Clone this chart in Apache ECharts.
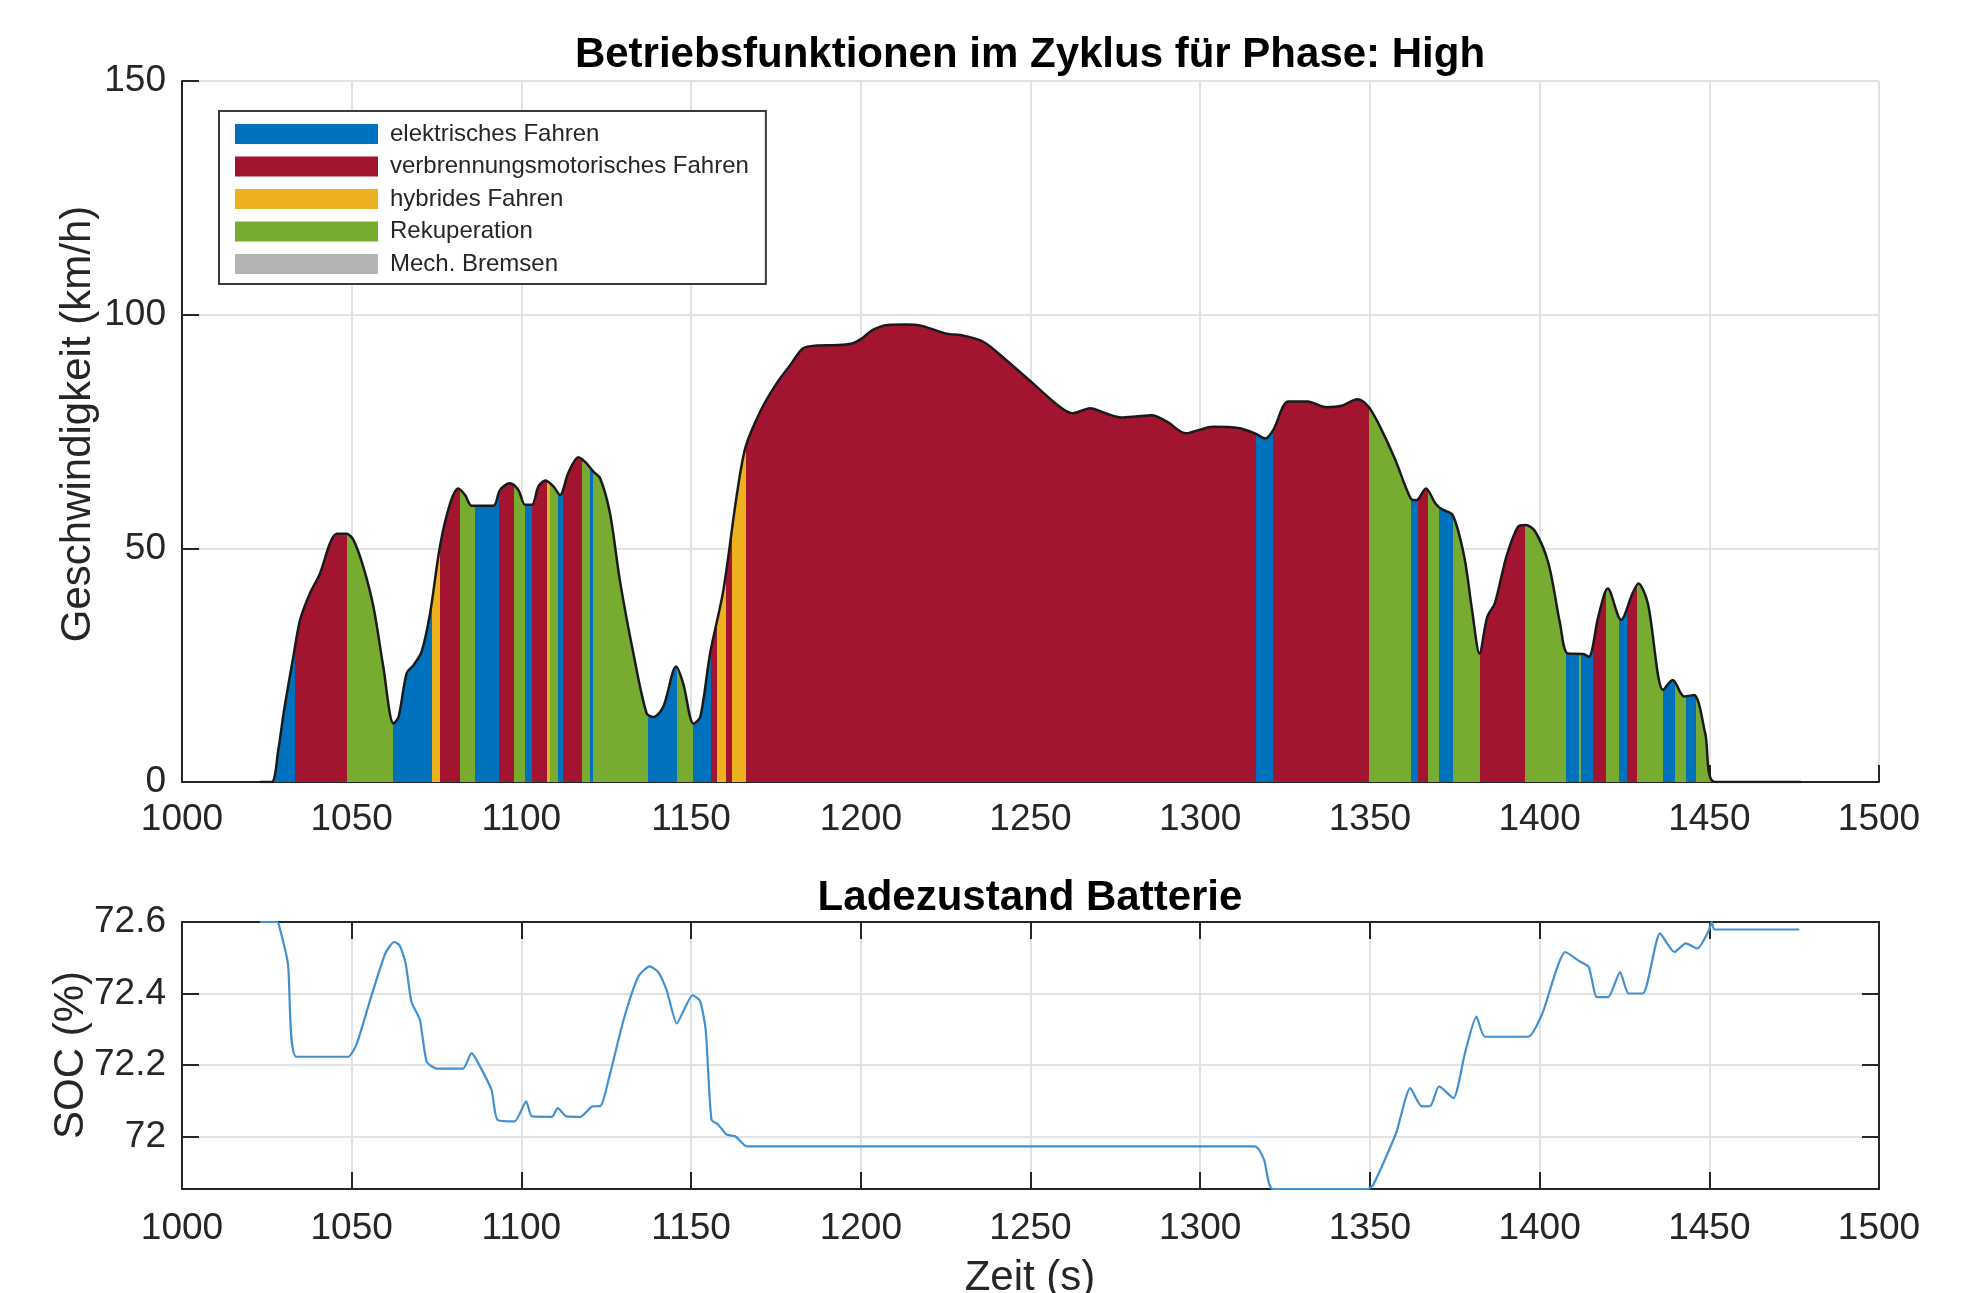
<!DOCTYPE html>
<html>
<head>
<meta charset="utf-8">
<script src="https://cdn.jsdelivr.net/npm/echarts@6/dist/echarts.min.js"></script>
<style>
  html, body { margin: 0; padding: 0; background: #ffffff; }
  #chart { width: 1962px; height: 1293px; }
</style>
</head>
<body>
<div id="chart"></div>
<script>
// Geschwindigkeitsprofil der Phase "High": Zeit (s) und Geschwindigkeit (km/h)
const zeit = [
  1023, 1026.4, 1028.4, 1030, 1032.8, 1034.8, 1037.7, 1040.7, 1043.6, 1045.6,
  1048.5, 1050.5, 1053.4, 1056.4, 1059.3, 1062.3, 1063.8, 1066.2, 1068.2, 1070.6,
  1073.1, 1076.0, 1079.0, 1081.4, 1083.4, 1085.4, 1091.7, 1093.7, 1096.6, 1099.1,
  1101.1, 1103.1, 1105.0, 1107.0, 1109.5, 1111.4, 1113.8, 1116.8, 1119.2, 1121.2,
  1123.2, 1126.1, 1129.0, 1133.0, 1136.9, 1138.9, 1141.8, 1145.6, 1147.7, 1150.7,
  1152.7, 1155.6, 1159.5, 1163.4, 1166.1, 1170.6, 1175.2, 1179.0, 1183.0, 1187.0,
  1193.0, 1197.7, 1200.5, 1203.4, 1207.9, 1213.0, 1218.0, 1224.8, 1230.3, 1236.1,
  1242.8, 1250.7, 1258.6, 1262.5, 1267.6, 1272.1, 1276.7, 1281.0, 1285.7, 1290.2,
  1295.8, 1299.5, 1303.7, 1311.6, 1316.1, 1319.2, 1321.5, 1326.0, 1331.6, 1337.2,
  1341.7, 1346.3, 1349.6, 1353.0, 1357.5, 1362.0, 1363.7, 1366.5, 1369.3, 1371.1,
  1374.4, 1377.8, 1380.1, 1382.3, 1384.6, 1386.8, 1390.2, 1393.6, 1395.8, 1398.7,
  1402.6, 1406.0, 1408.3, 1412.8, 1414.5, 1417.3, 1420.1, 1424.0, 1427.4, 1429.1,
  1431.9, 1436.4, 1439.2, 1442.6, 1445.5, 1448.8, 1451.7, 1477
];
const geschwindigkeit = [
  0, 0, 7, 15, 26.8, 34.7, 40.4, 44.7, 51.1, 53.1,
  53.1, 51.8, 46.1, 37.5, 24.7, 12.5, 13.9, 23.3, 25.0, 27.9,
  36.1, 50.4, 59.6, 62.8, 61.4, 59.1, 59.1, 62.5, 63.9, 62.5,
  59.3, 59.3, 63.2, 64.5, 63.2, 61.4, 66.1, 69.5, 68.2, 66.4,
  65.0, 57.5, 43.2, 27.5, 14.7, 13.9, 16.1, 24.7, 21.0, 12.5,
  13.9, 27.5, 41.0, 61.1, 71.8, 79.6, 85.3, 89.0, 92.8, 93.4,
  93.5, 93.9, 95.0, 96.7, 97.8, 97.9, 97.6, 96.0, 95.5, 94.2,
  90.3, 85.3, 80.3, 78.9, 80.0, 78.9, 78.0, 78.2, 78.5, 77.1,
  74.6, 75.3, 76.0, 75.7, 74.6, 73.5, 75.3, 81.4, 81.4, 80.2,
  80.5, 81.9, 80.3, 76.0, 68.9, 60.7, 60.3, 62.8, 59.6, 58.4,
  57.1, 48.2, 36.8, 27.5, 35.4, 38.2, 48.2, 54.6, 55.0, 53.6,
  46.8, 34.0, 27.5, 27.4, 26.8, 35.4, 41.4, 34.7, 40.4, 42.5,
  38.2, 19.7, 21.8, 18.3, 18.6, 10.4, 0, 0
];

// Betriebsarten und ihre Farben (Legendenreihenfolge)
const betriebsarten = [
  'elektrisches Fahren',
  'verbrennungsmotorisches Fahren',
  'hybrides Fahren',
  'Rekuperation',
  'Mech. Bremsen'
];
const modusFarben = ['#0072BD', '#A2142F', '#EDB120', '#77AC30', '#B4B4B4'];

// Zeitgrenzen der Abschnitte (s) und Betriebsart je Abschnitt
// 0 = elektrisch, 1 = verbrennungsmotorisch, 2 = hybrid, 3 = Rekuperation
const abschnittGrenzen = [
  1026.4, 1033.3, 1048.5, 1062.3, 1073.6, 1076.1, 1081.9, 1086.4, 1093.3, 1097.8,
  1101.2, 1103.1, 1107.5, 1108.5, 1110.9, 1112.4, 1117.8, 1120.2, 1121.2, 1137.4,
  1145.8, 1150.7, 1156.0, 1157.7, 1160.3, 1162.0, 1166.3, 1316.3, 1321.5, 1349.6,
  1362.0, 1364.3, 1367.1, 1370.5, 1374.4, 1382.3, 1395.8, 1407.7, 1411.5, 1412.1,
  1415.6, 1419.5, 1423.5, 1425.7, 1428.6, 1436.4, 1439.8, 1443.2, 1446.0, 1451.7
];
const abschnittModus = [
  0, 1, 3, 0, 2, 1, 3, 0, 1, 3,
  0, 1, 2, 3, 0, 1, 3, 0, 3, 0,
  3, 0, 1, 2, 1, 2, 1, 0, 1, 3,
  0, 1, 3, 0, 3, 1, 3, 0, 3, 0,
  1, 3, 0, 1, 3, 0, 3, 0, 3
];

// Ladezustand der Batterie: Zeit (s) und SOC (%)
const socZeit = [
  1023, 1028, 1028.6, 1031.2, 1033.7, 1048.9, 1051.5, 1055.7, 1059.9, 1062.5,
  1064.1, 1065.9, 1067.6, 1070.1, 1072.1, 1075.1, 1082.8, 1085.3, 1087.0, 1091.2,
  1092.9, 1098.0, 1101.4, 1103.1, 1109.0, 1110.7, 1113.3, 1117.4, 1120.9, 1123.3,
  1125.9, 1130.1, 1134.4, 1137.8, 1140.3, 1142.8, 1145.8, 1147.9, 1150.4, 1152.6,
  1154.3, 1156.0, 1158.0, 1160.5, 1163.1, 1166.5, 1316.1, 1318.8, 1321.4, 1349.3,
  1351.0, 1357.7, 1361.9, 1365.3, 1367.8, 1370.4, 1374.6, 1378.0, 1381.4, 1383.9,
  1396.6, 1400.8, 1407.6, 1411.8, 1414.5, 1416.9, 1420.2, 1423.7, 1426.2, 1430.4,
  1435.5, 1439.7, 1443.1, 1446.5, 1449.9, 1450.7, 1451.5, 1476.5
];
const socWert = [
  72.6, 72.6, 72.59, 72.484, 72.223, 72.223, 72.26, 72.39, 72.512, 72.544,
  72.535, 72.484, 72.377, 72.326, 72.209, 72.19, 72.19, 72.233, 72.21, 72.13,
  72.047, 72.042, 72.098, 72.056, 72.055, 72.079, 72.056, 72.055, 72.084, 72.085,
  72.167, 72.326, 72.447, 72.476, 72.46, 72.409, 72.316, 72.354, 72.395, 72.38,
  72.298, 72.047, 72.033, 72.005, 72.0, 71.972, 71.972, 71.935, 71.853, 71.853,
  71.865, 72.009, 72.135, 72.084, 72.085, 72.14, 72.107, 72.233, 72.335, 72.279,
  72.279, 72.344, 72.516, 72.49, 72.474, 72.39, 72.39, 72.46, 72.4, 72.4,
  72.568, 72.516, 72.54, 72.526, 72.577, 72.6, 72.579, 72.579
];

// Achsenbereiche und Teilstriche
const zeitBereich = [1000, 1500];
const zeitSchritt = 50;
const geschwBereich = [0, 150];
const geschwSchritt = 50;
const socBereich = [71.853, 72.6];
const socTicks = [72, 72.2, 72.4, 72.6];

const schrift = '"Liberation Sans", Arial, Helvetica, sans-serif';
const achsFarbe = '#262626';
const gitterFarbe = '#e2e2e2';

const chart = echarts.init(document.getElementById('chart'), null, { renderer: 'canvas' });

const geschwDaten = zeit.map((t, i) => [t, geschwindigkeit[i]]);
const socDaten = socZeit.map((t, i) => [t, socWert[i]]);

const abschnitte = abschnittModus.map((m, i) => ({
  gte: abschnittGrenzen[i],
  lt: abschnittGrenzen[i + 1],
  color: modusFarben[m]
}));

// Zahlen ohne Tausendertrennzeichen darstellen
const zahl = v => String(Math.round(v * 1000) / 1000);

function beschriftung(margin, extra) {
  return Object.assign({
    show: true, fontFamily: schrift, fontSize: 37, color: achsFarbe, margin: margin,
    showMinLabel: true, showMaxLabel: true, formatter: zahl
  }, extra || {});
}

function achse(extra) {
  return Object.assign({
    type: 'value',
    axisLine: { show: true, onZero: false, lineStyle: { color: achsFarbe, width: 2 } },
    axisTick: { show: true, inside: true, length: 17, lineStyle: { color: achsFarbe, width: 2 } },
    axisLabel: beschriftung(16),
    splitLine: { show: true, lineStyle: { color: gitterFarbe, width: 2 } }
  }, extra);
}

const option = {
  animation: false,
  backgroundColor: '#ffffff',
  grid: [
    { left: 182, top: 81, width: 1697, height: 701 },
    { left: 182, top: 922, width: 1697, height: 267 }
  ],
  xAxis: [
    achse({ gridIndex: 0, min: zeitBereich[0], max: zeitBereich[1], interval: zeitSchritt,
            axisLabel: beschriftung(19) }),
    achse({ gridIndex: 1, min: zeitBereich[0], max: zeitBereich[1], interval: zeitSchritt,
            axisLabel: beschriftung(21) }),
    achse({ gridIndex: 1, position: 'top', min: zeitBereich[0], max: zeitBereich[1], interval: zeitSchritt,
            axisLabel: { show: false }, splitLine: { show: false } })
  ],
  yAxis: [
    achse({ gridIndex: 0, min: geschwBereich[0], max: geschwBereich[1], interval: geschwSchritt }),
    achse({ gridIndex: 1, min: socBereich[0], max: socBereich[1],
            axisTick: { show: true, inside: true, length: 17, customValues: socTicks,
                        lineStyle: { color: achsFarbe, width: 2 } },
            axisLabel: beschriftung(16, { customValues: socTicks }) }),
    achse({ gridIndex: 1, position: 'right', min: socBereich[0], max: socBereich[1],
            axisTick: { show: true, inside: true, length: 17, customValues: socTicks,
                        lineStyle: { color: achsFarbe, width: 2 } },
            axisLabel: { show: false }, splitLine: { show: false } })
  ],
  visualMap: {
    type: 'piecewise',
    show: false,
    seriesIndex: 0,
    dimension: 0,
    pieces: abschnitte,
    outOfRange: { color: modusFarben[0] }
  },
  legend: {
    data: betriebsarten.map(n => ({ name: n, icon: 'rect' })),
    orient: 'vertical',
    left: 219,
    top: 111,
    itemWidth: 143,
    itemHeight: 20,
    itemGap: 8.5,
    padding: [11, 17, 8, 16],
    borderColor: '#3a3a3a',
    borderWidth: 2,
    backgroundColor: '#ffffff',
    selectedMode: false,
    textStyle: { fontFamily: schrift, fontSize: 24, color: achsFarbe, padding: [0, 0, 0, 7] }
  },
  series: [
    {
      type: 'line',
      name: 'Betriebsart',
      xAxisIndex: 0, yAxisIndex: 0,
      data: geschwDaten,
      smooth: 0.3,
      showSymbol: false,
      silent: true,
      lineStyle: { width: 0 },
      areaStyle: { opacity: 1 },
      z: 2
    },
    {
      type: 'line',
      name: 'Geschwindigkeit',
      xAxisIndex: 0, yAxisIndex: 0,
      data: geschwDaten,
      smooth: 0.3,
      showSymbol: false,
      silent: true,
      lineStyle: { color: '#1a1a1a', width: 2.5 },
      z: 3
    }
  ].concat(betriebsarten.map((n, k) => ({
      type: 'line',
      name: n,
      xAxisIndex: 0, yAxisIndex: 0,
      data: [],
      itemStyle: { color: modusFarben[k] },
      lineStyle: { color: modusFarben[k] }
  }))).concat([
    {
      type: 'line',
      name: 'SOC',
      xAxisIndex: 1, yAxisIndex: 1,
      data: socDaten,
      smooth: 0.2,
      showSymbol: false,
      silent: true,
      lineStyle: { color: '#4190d0', width: 2.2 },
      z: 3
    }
  ]),
  graphic: [
    { type: 'text', x: 1030, y: 55, style: { text: 'Betriebsfunktionen im Zyklus für Phase: High',
      font: 'bold 42px ' + schrift, fill: '#000000', textAlign: 'center', textVerticalAlign: 'middle' } },
    { type: 'text', x: 1030, y: 898, style: { text: 'Ladezustand Batterie',
      font: 'bold 42px ' + schrift, fill: '#000000', textAlign: 'center', textVerticalAlign: 'middle' } },
    { type: 'text', x: 1030, y: 1278, style: { text: 'Zeit (s)',
      font: '42px ' + schrift, fill: achsFarbe, textAlign: 'center', textVerticalAlign: 'middle' } },
    { type: 'text', x: 78, y: 424, rotation: Math.PI / 2, style: { text: 'Geschwindigkeit (km/h)',
      font: '42px ' + schrift, fill: achsFarbe, textAlign: 'center', textVerticalAlign: 'middle' } },
    { type: 'text', x: 71, y: 1055, rotation: Math.PI / 2, style: { text: 'SOC (%)',
      font: '42px ' + schrift, fill: achsFarbe, textAlign: 'center', textVerticalAlign: 'middle' } }
  ]
};

chart.setOption(option);
</script>
</body>
</html>
